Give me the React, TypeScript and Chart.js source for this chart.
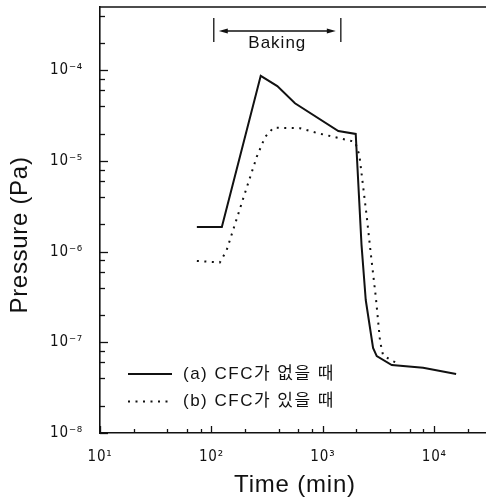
import React, { useEffect, useRef } from 'react';
import { Chart, registerables } from 'chart.js';

Chart.register(...registerables);

// ---- data ----
const TIME_A = [74, 124, 277, 390, 562, 1377, 1972, 2223, 2426, 2822, 3046, 4155, 7935, 15700];
const PRESSURE_A = [1.87e-6, 1.87e-6, 8.7e-5, 6.7e-5, 4.34e-5, 2.14e-5, 1.99e-5, 1.19e-6, 2.93e-7, 8.66e-8, 7.06e-8, 5.62e-8, 5.25e-8, 4.48e-8];

const TIME_B = [74, 119, 137, 200, 255, 303, 360, 624, 911, 1639, 1946, 2127, 2244, 2477, 2690, 2985, 3263, 3467, 4155, 4864];
const PRESSURE_B = [7.9e-7, 7.6e-7, 1.04e-6, 4.44e-6, 1.11e-5, 1.84e-5, 2.33e-5, 2.3e-5, 2.02e-5, 1.71e-5, 1.63e-5, 1.16e-5, 6.67e-6, 2.43e-6, 9.6e-7, 3.18e-7, 1.02e-7, 7.25e-8, 6.26e-8, 5.77e-8];

const SERIES_LABELS = ['(a) CFC가 없을 때', '(b) CFC가 있을 때'];

const X_MIN = 10;
const X_MAX = 31623;
const Y_MIN = 1e-8;
const Y_MAX = 5e-4;

const X_MAJOR = [10, 100, 1000, 10000];
const X_TICK_LABELS = ['10¹', '10²', '10³', '10⁴'];
const Y_MAJOR = [1e-8, 1e-7, 1e-6, 1e-5, 1e-4];
const Y_TICK_LABELS = ['10⁻⁸', '10⁻⁷', '10⁻⁶', '10⁻⁵', '10⁻⁴'];
const MINOR_STEPS = [2, 4, 6, 8];

const BAKING_RANGE = [105, 1450];
const BAKING_LABEL = 'Baking';

const X_TITLE = 'Time (min)';
const Y_TITLE = 'Pressure (Pa)';

const FONT = "'Liberation Sans', Arial, 'Noto Sans CJK KR', sans-serif";
const TICK_FONT = "'DejaVu Sans Condensed', 'DejaVu Sans', sans-serif";
const INK = '#111';

function buildTicks(majors: number[], min: number, max: number) {
  const out: { value: number; major: boolean }[] = [];
  majors.forEach((m) => {
    if (m >= min && m <= max) out.push({ value: m, major: true });
    MINOR_STEPS.forEach((s) => {
      const v = m * s;
      if (v >= min && v <= max) out.push({ value: v, major: false });
    });
  });
  return out.sort((a, b) => a.value - b.value);
}

function majorIndex(majors: number[], v: number) {
  return majors.findIndex((m) => Math.abs(Math.log10(m) - Math.log10(v)) < 1e-6);
}

const spacingPlugin = {
  id: 'spacing',
  beforeDraw(chart: any) {
    chart.ctx.letterSpacing = '0.8px';
  },
  beforeDatasetsDraw(chart: any) {
    chart.ctx.letterSpacing = '0px';
  },
};

const inwardTicks = {
  id: 'inwardTicks',
  afterDraw(chart: any) {
    const { ctx, chartArea } = chart;
    const { left, right, top, bottom } = chartArea;
    const xs = chart.scales.x;
    const ys = chart.scales.y;
    ctx.save();
    ctx.strokeStyle = INK;
    ctx.lineWidth = 1.3;
    xs.ticks.forEach((t: any) => {
      const px = Math.round(xs.getPixelForValue(t.value)) + 0.5;
      const len = majorIndex(X_MAJOR, t.value) >= 0 ? 7 : 4;
      ctx.beginPath();
      ctx.moveTo(px, bottom);
      ctx.lineTo(px, bottom - len);
      ctx.stroke();
    });
    ys.ticks.forEach((t: any) => {
      const py = Math.round(ys.getPixelForValue(t.value)) + 0.5;
      const len = majorIndex(Y_MAJOR, t.value) >= 0 ? 8 : 5;
      ctx.beginPath();
      ctx.moveTo(left, py);
      ctx.lineTo(left + len, py);
      ctx.stroke();
    });
    ctx.lineWidth = 1.6;
    ctx.beginPath();
    ctx.moveTo(left, top);
    ctx.lineTo(right, top);
    ctx.stroke();
    ctx.restore();
  },
};

const yTitlePlugin = {
  id: 'yTitle',
  afterDraw(chart: any) {
    const { ctx, chartArea } = chart;
    ctx.save();
    ctx.fillStyle = INK;
    ctx.font = `24px ${FONT}`;
    ctx.letterSpacing = '0.7px';
    ctx.textAlign = 'center';
    ctx.textBaseline = 'middle';
    ctx.translate(chartArea.left - 80, (chartArea.top + chartArea.bottom) / 2 + 15);
    ctx.rotate(-Math.PI / 2);
    ctx.fillText(Y_TITLE, 0, 0);
    ctx.restore();
  },
};

const bakingPlugin = {
  id: 'baking',
  afterDraw(chart: any) {
    const { ctx, chartArea } = chart;
    const xs = chart.scales.x;
    const top = chartArea.top;
    const xa = xs.getPixelForValue(BAKING_RANGE[0]);
    const xb = xs.getPixelForValue(BAKING_RANGE[1]);
    const ya = top + 24;
    ctx.save();
    ctx.strokeStyle = INK;
    ctx.fillStyle = INK;
    ctx.lineWidth = 1.3;
    ctx.beginPath();
    ctx.moveTo(xa, top + 11);
    ctx.lineTo(xa, top + 35);
    ctx.moveTo(xb, top + 11);
    ctx.lineTo(xb, top + 35);
    ctx.stroke();
    const l = xa + 5;
    const r = xb - 5;
    ctx.lineWidth = 1.5;
    ctx.beginPath();
    ctx.moveTo(l + 6, ya);
    ctx.lineTo(r - 6, ya);
    ctx.stroke();
    ctx.beginPath();
    ctx.moveTo(l, ya);
    ctx.lineTo(l + 9, ya - 2.5);
    ctx.lineTo(l + 9, ya + 2.5);
    ctx.closePath();
    ctx.moveTo(r, ya);
    ctx.lineTo(r - 9, ya - 2.5);
    ctx.lineTo(r - 9, ya + 2.5);
    ctx.closePath();
    ctx.fill();
    ctx.font = `17px ${FONT}`;
    ctx.letterSpacing = '1px';
    ctx.textAlign = 'center';
    ctx.textBaseline = 'middle';
    ctx.fillText(BAKING_LABEL, (xa + xb) / 2, top + 36);
    ctx.restore();
  },
};

const legendPlugin = {
  id: 'cfcLegend',
  afterDraw(chart: any) {
    const { ctx, chartArea } = chart;
    const { left, bottom } = chartArea;
    chart.data.datasets.forEach((ds: any, i: number) => {
      const y = bottom - 59 + i * 27.5;
      ctx.save();
      ctx.strokeStyle = ds.borderColor;
      ctx.lineWidth = ds.borderWidth;
      ctx.setLineDash(ds.borderDash || []);
      ctx.beginPath();
      ctx.moveTo(left + 28, y);
      ctx.lineTo(left + 72, y);
      ctx.stroke();
      ctx.setLineDash([]);
      ctx.fillStyle = INK;
      ctx.font = `17px ${FONT}`;
      ctx.letterSpacing = '1.5px';
      ctx.textAlign = 'left';
      ctx.textBaseline = 'middle';
      ctx.fillText(ds.label, left + 83, y);
      ctx.restore();
    });
  },
};

export default function App() {
  const ref = useRef<HTMLCanvasElement | null>(null);

  useEffect(() => {
    if (!ref.current) return;
    const chart = new Chart(ref.current, {
      type: 'line',
      data: {
        datasets: [
          {
            label: SERIES_LABELS[0],
            data: TIME_A.map((t, i) => ({ x: t, y: PRESSURE_A[i] })),
            borderColor: INK,
            borderWidth: 2,
            pointRadius: 0,
            tension: 0,
            fill: false,
          },
          {
            label: SERIES_LABELS[1],
            data: TIME_B.map((t, i) => ({ x: t, y: PRESSURE_B[i] })),
            borderColor: INK,
            borderWidth: 2,
            borderDash: [2, 5.5],
            borderCapStyle: 'butt',
            pointRadius: 0,
            tension: 0,
            fill: false,
          },
        ],
      },
      options: {
        responsive: false,
        animation: false,
        devicePixelRatio: 1,
        layout: { padding: { left: 0, top: 7, right: 10, bottom: 0 } },
        plugins: {
          legend: { display: false },
          tooltip: { enabled: false },
        },
        scales: {
          x: {
            type: 'logarithmic',
            position: 'bottom',
            min: X_MIN,
            max: X_MAX,
            grid: { display: false, drawTicks: false },
            border: { display: true, color: INK, width: 1.6 },
            afterBuildTicks: (scale: any) => {
              scale.ticks = buildTicks(X_MAJOR, X_MIN, X_MAX);
            },
            afterFit: (scale: any) => {
              scale.height = 68;
              scale.paddingLeft = 0;
              scale.paddingRight = 0;
            },
            ticks: {
              autoSkip: false,
              maxRotation: 0,
              padding: 15,
              color: INK,
              font: { family: TICK_FONT, size: 15 },
              callback: (v: any) => {
                const i = majorIndex(X_MAJOR, Number(v));
                return i >= 0 ? X_TICK_LABELS[i] : '';
              },
            },
            title: {
              display: true,
              text: X_TITLE,
              color: INK,
              font: { family: FONT, size: 24 },
              padding: { top: 0, bottom: 1 },
            },
          },
          y: {
            type: 'logarithmic',
            position: 'left',
            min: Y_MIN,
            max: Y_MAX,
            grid: { display: false, drawTicks: false },
            border: { display: true, color: INK, width: 1.6 },
            afterBuildTicks: (scale: any) => {
              scale.ticks = buildTicks(Y_MAJOR, Y_MIN, Y_MAX);
            },
            afterFit: (scale: any) => {
              scale.width = 100;
              scale.paddingTop = 0;
              scale.paddingBottom = 0;
            },
            ticks: {
              autoSkip: false,
              padding: 17,
              color: INK,
              font: { family: TICK_FONT, size: 15 },
              callback: (v: any) => {
                const i = majorIndex(Y_MAJOR, Number(v));
                return i >= 0 ? Y_TICK_LABELS[i] : '';
              },
            },
            title: { display: false, text: Y_TITLE },
          },
        },
      },
      plugins: [spacingPlugin, inwardTicks, yTitlePlugin, bakingPlugin, legendPlugin],
    } as any);
    return () => chart.destroy();
  }, []);

  return (
    <div
      style={{
        position: 'fixed',
        left: 0,
        top: 0,
        width: 486,
        height: 501,
        overflow: 'hidden',
        background: '#fff',
      }}
    >
      <canvas ref={ref} width={500} height={501} style={{ display: 'block', width: 500, height: 501 }} />
    </div>
  );
}
